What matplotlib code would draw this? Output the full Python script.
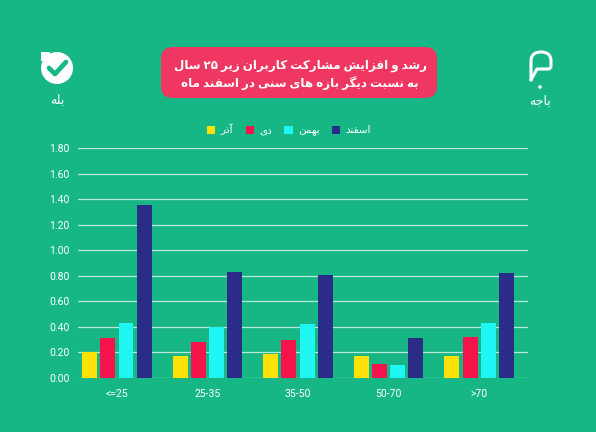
import re
import numpy as np
import matplotlib
matplotlib.use("Agg")
import matplotlib.pyplot as plt
from matplotlib.patches import FancyBboxPatch, Circle, Rectangle, PathPatch
from matplotlib.path import Path

plt.rcParams['font.family'] = ['Roboto', 'DejaVu Sans']

# data
groups = ['<=25', '25-35', '35-50', '50-70', '>70']
azar = [0.20, 0.17, 0.19, 0.17, 0.17]
dey = [0.31, 0.28, 0.30, 0.11, 0.32]
bahman = [0.43, 0.40, 0.42, 0.10, 0.43]
esfand = [1.35, 0.83, 0.81, 0.31, 0.82]
series_names = ['آذر', 'دی', 'بهمن', 'اسفند']
title_lines = ['رشد و افزایش مشارکت کاربران زیر ۲۵ سال',
               'به نسبت دیگر بازه های سنی در اسفند ماه']
yticks = [0.0, 0.2, 0.4, 0.6, 0.8, 1.0, 1.2, 1.4, 1.6, 1.8]

bg = '#17b785'
colors = ['#ffe10a', '#f5134b', '#1ff5f2', '#2b2c87']

# simple arabic shaping (isolated, final, initial, medial)
FORMS = {
    'ا': ('\ufe8d', '\ufe8e', None, None),
    'آ': ('\ufe81', '\ufe82', None, None),
    'ب': ('\ufe8f', '\ufe90', '\ufe91', '\ufe92'),
    'ت': ('\ufe95', '\ufe96', '\ufe97', '\ufe98'),
    'ج': ('\ufe9d', '\ufe9e', '\ufe9f', '\ufea0'),
    'د': ('\ufea9', '\ufeaa', None, None),
    'ذ': ('\ufeab', '\ufeac', None, None),
    'ر': ('\ufead', '\ufeae', None, None),
    'ز': ('\ufeaf', '\ufeb0', None, None),
    'س': ('\ufeb1', '\ufeb2', '\ufeb3', '\ufeb4'),
    'ش': ('\ufeb5', '\ufeb6', '\ufeb7', '\ufeb8'),
    'ف': ('\ufed1', '\ufed2', '\ufed3', '\ufed4'),
    'ل': ('\ufedd', '\ufede', '\ufedf', '\ufee0'),
    'م': ('\ufee1', '\ufee2', '\ufee3', '\ufee4'),
    'ن': ('\ufee5', '\ufee6', '\ufee7', '\ufee8'),
    'ه': ('\ufee9', '\ufeea', '\ufeeb', '\ufeec'),
    'و': ('\ufeed', '\ufeee', None, None),
    'ک': ('\ufb8e', '\ufb8f', '\ufb90', '\ufb91'),
    'گ': ('\ufb92', '\ufb93', '\ufb94', '\ufb95'),
    'ی': ('\ufbfc', '\ufbfd', '\ufbfe', '\ufbff'),
}


def rtl(text):
    out = []
    for i, ch in enumerate(text):
        if ch not in FORMS:
            out.append(ch)
            continue
        prev = text[i - 1] if i > 0 else None
        nxt = text[i + 1] if i + 1 < len(text) else None
        jp = prev in FORMS and FORMS[prev][2] is not None
        jn = nxt in FORMS and FORMS[ch][2] is not None
        f = FORMS[ch]
        if jp and jn:
            out.append(f[3])
        elif jp:
            out.append(f[1])
        elif jn:
            out.append(f[2])
        else:
            out.append(f[0])
    rev = ''.join(out)[::-1]
    return re.sub(r'[0-9\u06f0-\u06f9.]+', lambda m: m.group(0)[::-1], rev)


fig = plt.figure(figsize=(5.96, 4.32), dpi=100)
fig.patch.set_facecolor(bg)

ax = fig.add_axes([78 / 596, 1 - 378 / 432, 450 / 596, 230 / 432])
ax.set_facecolor(bg)
x = np.arange(len(groups))
w = 0.165
offsets = [-0.3, -0.1, 0.1, 0.3]
for vals, c, off, name in zip([azar, dey, bahman, esfand], colors, offsets, series_names):
    ax.bar(x + off, vals, w, color=c, label=rtl(name), zorder=3)

ax.set_xlim(-0.43, 4.54)
ax.set_ylim(0, 1.8)
ax.set_yticks(yticks)
ax.set_yticklabels([f'{v:.2f}' for v in yticks])
ax.set_xticks(x)
ax.set_xticklabels(groups)
ax.tick_params(length=0, colors='white', labelsize=7.5)
ax.tick_params(axis='y', pad=6)
ax.tick_params(axis='x', pad=8)
ax.grid(axis='y', color='white', linewidth=0.9, alpha=0.7, zorder=0)
for s in ax.spines.values():
    s.set_visible(False)

ax.legend(loc='center', bbox_to_anchor=(289 / 596, 1 - 130 / 432),
          bbox_transform=fig.transFigure, ncol=4, frameon=False,
          handlelength=0.8, handleheight=0.8, handletextpad=0.5,
          columnspacing=1.2, fontsize=7.5, labelcolor='white')

# overlay for decorations, in pixels
ov = fig.add_axes([0, 0, 1, 1])
ov.set_xlim(0, 596)
ov.set_ylim(432, 0)
ov.axis('off')
ov.patch.set_alpha(0)

ov.add_patch(FancyBboxPatch((166, 52), 266, 41, boxstyle='round,pad=5,rounding_size=12',
                            fc='#ef3762', ec='none'))
ov.text(300, 65, rtl(title_lines[0]), color='white', fontsize=8.6, fontweight='bold',
        ha='center', va='center')
ov.text(300, 83, rtl(title_lines[1]), color='white', fontsize=8.6, fontweight='bold',
        ha='center', va='center')

# bale logo
ov.add_patch(Circle((57, 68), 16, fc='white', ec='none'))
ov.add_patch(Rectangle((41, 52), 9, 9, fc='white', ec='none'))
ov.plot([49, 55, 66], [68, 74, 62], color=bg, lw=3.4, solid_capstyle='round',
        solid_joinstyle='round')
ov.text(57, 100, rtl('بله'), color='white', fontsize=9,
        ha='center', va='center')

# baje logo
verts = [(531, 80), (531, 61), (531, 54), (536, 52), (541, 52),
         (546, 52), (551, 54), (551, 61), (551, 66), (551, 69), (548, 69),
         (537, 69), (531, 80)]
codes = [Path.MOVETO, Path.LINETO, Path.CURVE4, Path.CURVE4, Path.CURVE4,
         Path.CURVE4, Path.CURVE4, Path.CURVE4, Path.LINETO, Path.CURVE3, Path.CURVE3,
         Path.LINETO, Path.LINETO]
ov.add_patch(PathPatch(Path(verts, codes), fc='none', ec='white', lw=2.2,
                       joinstyle='round', capstyle='round'))
ov.add_patch(Circle((540, 87), 1.8, fc='white', ec='none'))
ov.text(540, 101, rtl('باجه'), color='white', fontsize=9,
        ha='center', va='center')

fig.savefig('out.png', dpi=100, facecolor=bg)
